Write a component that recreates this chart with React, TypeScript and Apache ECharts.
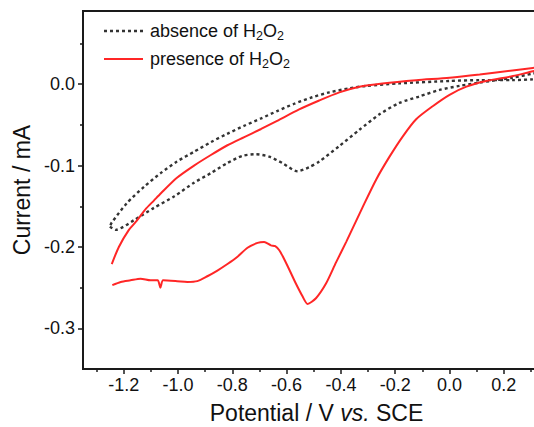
import React, { useEffect, useRef } from 'react';
import * as echarts from 'echarts';

// Potential (V vs. SCE) / current (mA) pairs
const absenceForward: number[][] = [
  [-1.251, -0.175], [-1.23, -0.179], [-1.162, -0.167], [-1.089, -0.152], [-1.015, -0.138],
  [-0.941, -0.121], [-0.878, -0.109], [-0.819, -0.097], [-0.763, -0.088], [-0.713, -0.086],
  [-0.664, -0.089], [-0.615, -0.097], [-0.56, -0.107], [-0.517, -0.102], [-0.48, -0.095],
  [-0.406, -0.076], [-0.332, -0.056], [-0.258, -0.037], [-0.185, -0.023], [-0.111, -0.015],
  [-0.037, -0.007], [0.037, -0.002], [0.111, 0.002], [0.232, 0.008], [0.306, 0.013], [0.34, 0.015],
];
const absenceReverse: number[][] = [
  [0.34, 0.007], [0.306, 0.006], [0.232, 0.005], [0.111, 0.005], [0.0, 0.004], [-0.185, 0.001],
  [-0.306, -0.002], [-0.369, -0.005], [-0.443, -0.01], [-0.506, -0.016], [-0.572, -0.024],
  [-0.635, -0.033], [-0.694, -0.042], [-0.756, -0.051], [-0.819, -0.061], [-0.878, -0.071],
  [-0.941, -0.083], [-1.004, -0.095], [-1.063, -0.109], [-1.125, -0.126], [-1.188, -0.146],
  [-1.244, -0.17], [-1.251, -0.175],
];
const presenceForward: number[][] = [
  [-1.242, -0.247], [-1.211, -0.243], [-1.175, -0.241], [-1.138, -0.239], [-1.101, -0.241],
  [-1.075, -0.241], [-1.065, -0.25], [-1.055, -0.241], [-1.003, -0.242], [-0.966, -0.243],
  [-0.929, -0.242], [-0.892, -0.236], [-0.855, -0.229], [-0.818, -0.221], [-0.781, -0.212],
  [-0.744, -0.201], [-0.707, -0.195], [-0.683, -0.194], [-0.658, -0.198], [-0.642, -0.199],
  [-0.627, -0.204], [-0.612, -0.213], [-0.59, -0.228], [-0.566, -0.245], [-0.541, -0.261],
  [-0.523, -0.27], [-0.492, -0.263], [-0.455, -0.245], [-0.418, -0.219], [-0.381, -0.194],
  [-0.32, -0.151], [-0.27, -0.117], [-0.221, -0.089], [-0.172, -0.064], [-0.123, -0.043],
  [-0.062, -0.027], [0.0, -0.013], [0.062, -0.003], [0.135, 0.004], [0.234, 0.01], [0.307, 0.016],
  [0.34, 0.018],
];
const presenceReverse: number[][] = [
  [0.34, 0.021], [0.307, 0.02], [0.232, 0.017], [0.111, 0.012], [0.0, 0.008], [-0.123, 0.005],
  [-0.247, 0.001], [-0.332, -0.003], [-0.406, -0.01], [-0.48, -0.02], [-0.554, -0.031],
  [-0.635, -0.045], [-0.694, -0.055], [-0.756, -0.065], [-0.818, -0.075], [-0.879, -0.087],
  [-0.941, -0.1], [-1.004, -0.115], [-1.063, -0.134], [-1.089, -0.143], [-1.118, -0.153],
  [-1.155, -0.169], [-1.181, -0.179], [-1.218, -0.2], [-1.244, -0.221],
];

const xMajorTicks = [-1.2, -1.0, -0.8, -0.6, -0.4, -0.2, 0.0, 0.2];
const xMinorTicks = [-1.3, -1.1, -0.9, -0.7, -0.5, -0.3, -0.1, 0.1, 0.3];
const yMajorTicks = [-0.3, -0.2, -0.1, 0.0];
const yMinorTicks = [-0.25, -0.15, -0.05, 0.05];

const seriesNames = ['absence of H2O2', 'presence of H2O2'];

const FONT = '"Liberation Sans", Arial, Helvetica, sans-serif';
const INK = '#1a1a1a';
const RED = '#ff2626';
const DOT = '#333333';

const X_MIN = -1.35;
const X_MAX = 0.37;
const Y_MIN = -0.35;
const Y_MAX = 0.09;

function buildOption(): any {
  const axisLineStyle = { color: INK, width: 2 };
  const legendRich = {
    n: { fontSize: 18, fontFamily: FONT, fill: '#111', lineHeight: 22 },
    s: { fontSize: 12.5, fontFamily: FONT, fill: '#111', lineHeight: 12, verticalAlign: 'bottom' },
  };
  return {
    animation: false,
    backgroundColor: '#ffffff',
    grid: {
      left: 83, top: 11, right: -16, bottom: 58,
      show: true, borderColor: INK, borderWidth: 2,
      containLabel: false, outerBoundsMode: 'none',
    },
    xAxis: [
      {
        type: 'value', min: X_MIN, max: X_MAX, position: 'bottom',
        axisLine: { show: true, onZero: false, lineStyle: axisLineStyle },
        axisTick: { show: true, inside: false, length: 5, customValues: xMajorTicks, lineStyle: { color: INK, width: 1.5 } },
        axisLabel: {
          customValues: xMajorTicks, formatter: (v: number) => v.toFixed(1),
          fontSize: 18, color: '#111', fontFamily: FONT, margin: 7,
        },
        splitLine: { show: false },
        name: 'Potential / V {i|vs.} SCE', nameLocation: 'middle', nameGap: 32,
        nameTextStyle: {
          fontSize: 23, fontFamily: FONT, color: '#111',
          rich: { i: { fontStyle: 'italic', fontSize: 23, fontFamily: FONT, color: '#111' } },
        },
      },
      {
        type: 'value', min: X_MIN, max: X_MAX, position: 'bottom',
        axisLine: { show: false, onZero: false },
        axisTick: { show: true, inside: false, length: 3, customValues: xMinorTicks, lineStyle: { color: INK, width: 1.5 } },
        axisLabel: { show: false },
        splitLine: { show: false },
      },
    ],
    yAxis: [
      {
        type: 'value', min: Y_MIN, max: Y_MAX, position: 'left',
        axisLine: { show: true, onZero: false, lineStyle: axisLineStyle },
        axisTick: { show: true, inside: false, length: 5, customValues: yMajorTicks, lineStyle: { color: INK, width: 1.5 } },
        axisLabel: {
          customValues: yMajorTicks, formatter: (v: number) => v.toFixed(1),
          fontSize: 18, color: '#111', fontFamily: FONT, margin: 8,
        },
        splitLine: { show: false },
        name: 'Current / mA', nameLocation: 'middle', nameGap: 46, nameRotate: 90,
        nameTextStyle: { fontSize: 23, fontFamily: FONT, color: '#111' },
      },
      {
        type: 'value', min: Y_MIN, max: Y_MAX, position: 'left',
        axisLine: { show: false, onZero: false },
        axisTick: { show: true, inside: false, length: 3, customValues: yMinorTicks, lineStyle: { color: INK, width: 1.5 } },
        axisLabel: { show: false },
        splitLine: { show: false },
      },
    ],
    series: [
      {
        name: seriesNames[0], type: 'line', xAxisIndex: 0, yAxisIndex: 0,
        data: absenceForward.concat(absenceReverse),
        showSymbol: false, symbol: 'none', smooth: 0.25, clip: true,
        lineStyle: { color: DOT, width: 2.4, type: [3, 3], cap: 'butt' },
        z: 2,
      },
      {
        name: seriesNames[1], type: 'line', xAxisIndex: 0, yAxisIndex: 0,
        data: presenceForward.concat(presenceReverse),
        showSymbol: false, symbol: 'none', smooth: 0.25, clip: true,
        lineStyle: { color: RED, width: 2 },
        z: 3,
      },
    ],
    graphic: [
      {
        type: 'line', shape: { x1: 104, y1: 31, x2: 143, y2: 31 },
        style: { stroke: DOT, lineWidth: 2.4, lineDash: [3, 3] },
      },
      {
        type: 'text', x: 150, y: 31,
        style: { text: '{n|absence of H}{s|2}{n|O}{s|2}', rich: legendRich, verticalAlign: 'middle', fill: '#111' },
      },
      {
        type: 'line', shape: { x1: 104, y1: 59, x2: 143, y2: 59 },
        style: { stroke: RED, lineWidth: 2 },
      },
      {
        type: 'text', x: 150, y: 59,
        style: { text: '{n|presence of H}{s|2}{n|O}{s|2}', rich: legendRich, verticalAlign: 'middle', fill: '#111' },
      },
    ],
  };
}

export default function App() {
  const ref = useRef<HTMLDivElement>(null);
  useEffect(() => {
    if (!ref.current) return;
    const chart = echarts.init(ref.current, null, { renderer: 'svg' });
    chart.setOption(buildOption());
    return () => chart.dispose();
  }, []);
  return (
    <div
      ref={ref}
      style={{ position: 'absolute', left: 0, top: 0, width: 534, height: 427, background: '#fff' }}
    />
  );
}
